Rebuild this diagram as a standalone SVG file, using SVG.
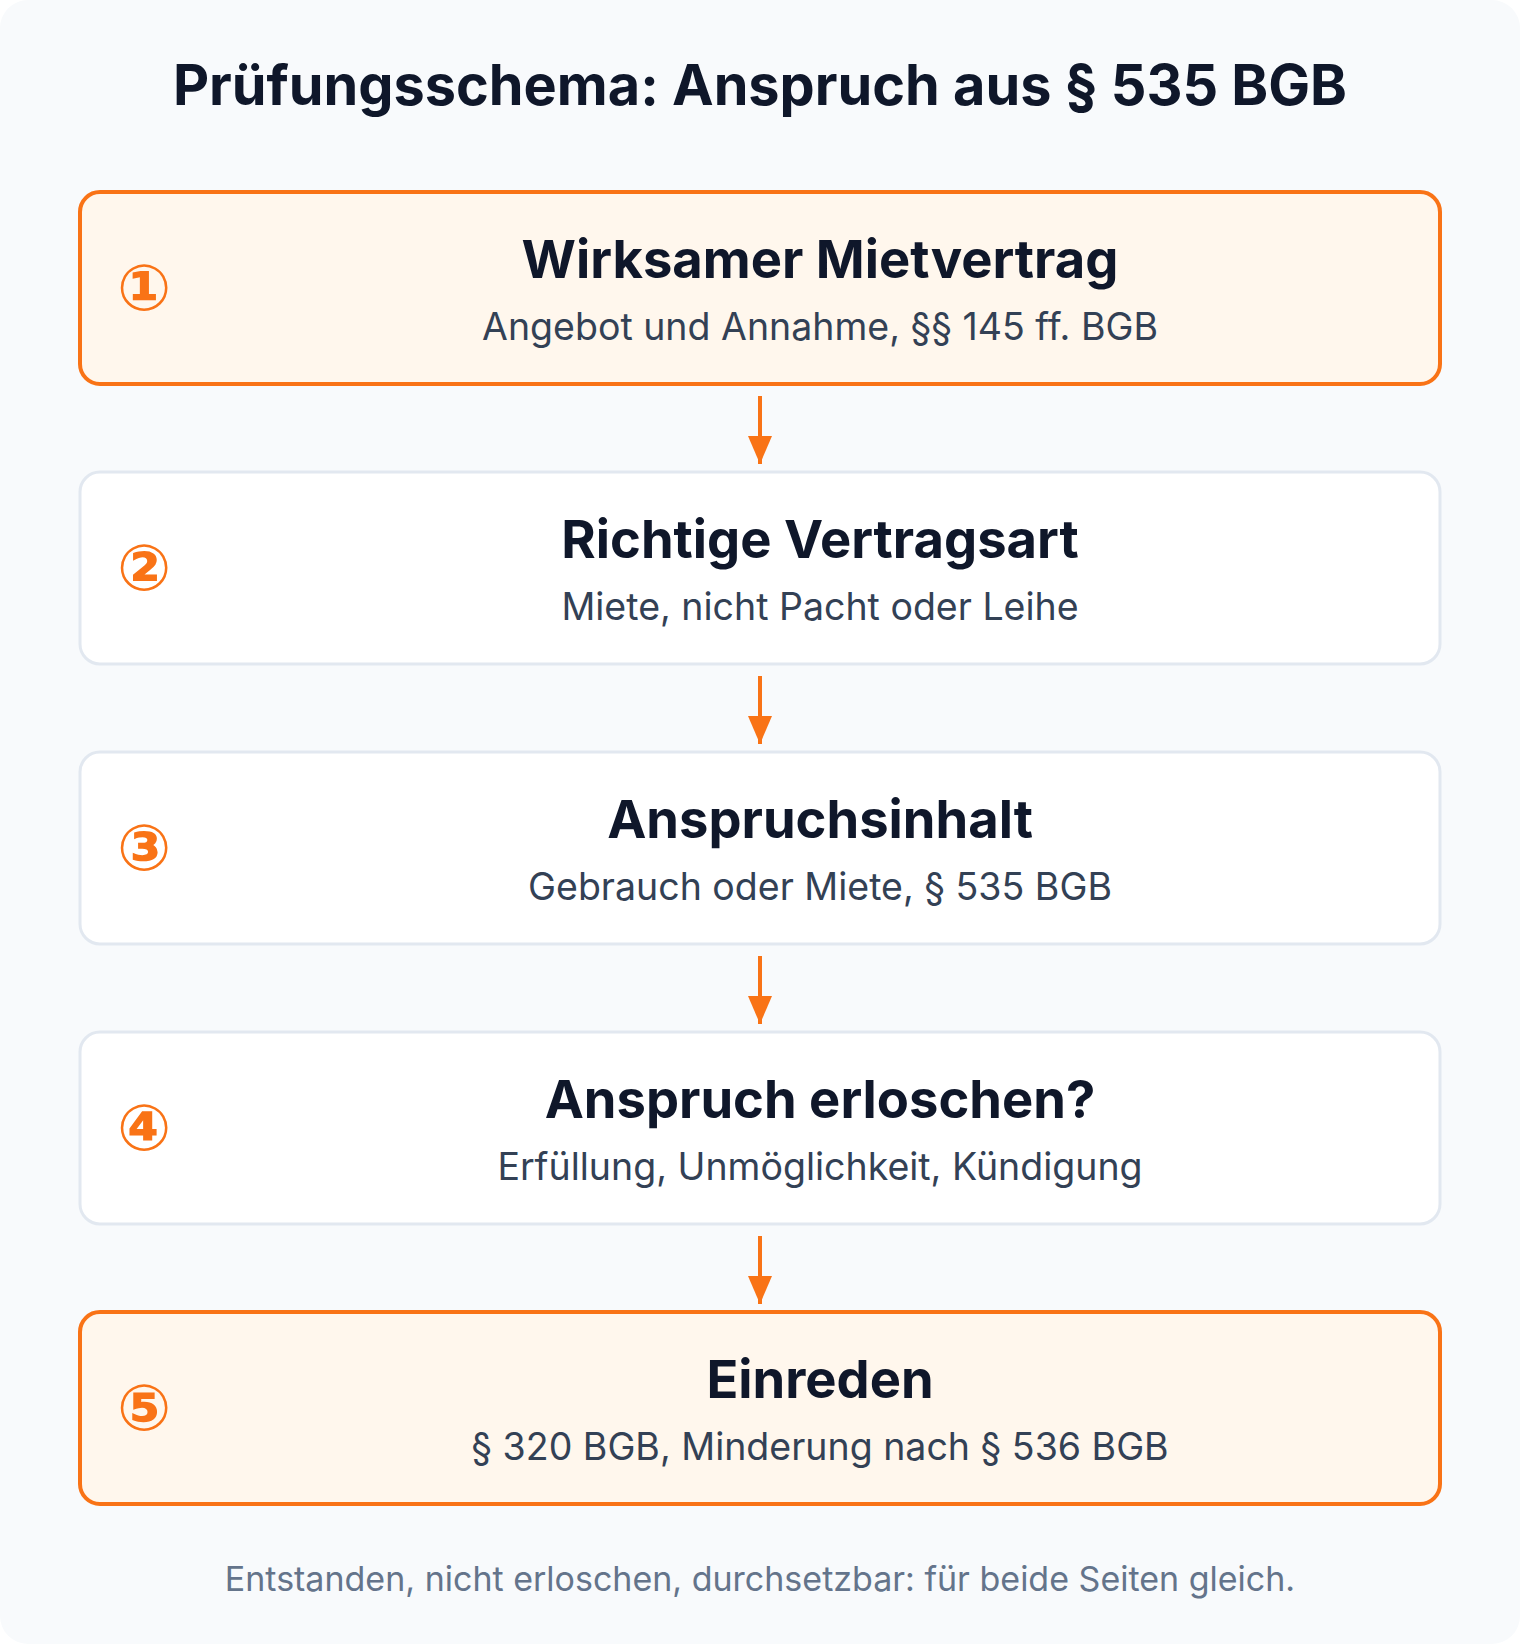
<svg xmlns="http://www.w3.org/2000/svg" width="1520" height="1644" viewBox="0 0 1520 1644">
<defs>
<style>
.title{font-family:Inter,"Liberation Sans",sans-serif;font-weight:700;font-size:55.8px;fill:#0f172a;text-anchor:middle}
.head{font-family:Inter,"Liberation Sans",sans-serif;font-weight:700;font-size:52.5px;fill:#0f172a;text-anchor:middle}
.sub{font-family:Inter,"Liberation Sans",sans-serif;font-weight:400;font-size:37.5px;fill:#334155;text-anchor:middle}
.num{font-family:"DejaVu Sans",sans-serif;font-weight:700;font-size:64px;fill:#f97316;text-anchor:middle}
.foot{font-family:Inter,"Liberation Sans",sans-serif;font-weight:400;font-size:34px;fill:#64748b;text-anchor:middle}
.hl{fill:#fff7ed;stroke:#f97316;stroke-width:4}
.pl{fill:#ffffff;stroke:#e2e8f0;stroke-width:3}
.conn{stroke:#f97316;stroke-width:4;fill:none}
</style>
<marker id="ah" viewBox="0 0 28 24" refX="28" refY="12" markerWidth="28" markerHeight="24" markerUnits="userSpaceOnUse" orient="auto">
<path d="M0,0 L28,12 L0,24 Z" fill="#f97316"/>
</marker>
</defs>
<rect width="1520" height="1644" fill="#ffffff"/>
<rect width="1520" height="1644" rx="28" fill="#f8fafc"/>
<text class="title" x="760" y="105">Prüfungsschema: Anspruch aus § 535 BGB</text>
<g id="connectors">
<line class="conn" x1="760" y1="396" x2="760" y2="464" marker-end="url(#ah)"/>
<line class="conn" x1="760" y1="676" x2="760" y2="744" marker-end="url(#ah)"/>
<line class="conn" x1="760" y1="956" x2="760" y2="1024" marker-end="url(#ah)"/>
<line class="conn" x1="760" y1="1236" x2="760" y2="1304" marker-end="url(#ah)"/>
</g>
<g id="node1">
<rect class="hl" x="80" y="192" width="1360" height="192" rx="20"/>
<text class="num" x="144" y="310">①</text>
<text class="head" x="820" y="278">Wirksamer Mietvertrag</text>
<text class="sub" x="820" y="340">Angebot und Annahme, §§ 145 ff. BGB</text>
</g>
<g id="node2">
<rect class="pl" x="80" y="472" width="1360" height="192" rx="20"/>
<text class="num" x="144" y="590">②</text>
<text class="head" x="820" y="558">Richtige Vertragsart</text>
<text class="sub" x="820" y="620">Miete, nicht Pacht oder Leihe</text>
</g>
<g id="node3">
<rect class="pl" x="80" y="752" width="1360" height="192" rx="20"/>
<text class="num" x="144" y="870">③</text>
<text class="head" x="820" y="838">Anspruchsinhalt</text>
<text class="sub" x="820" y="900">Gebrauch oder Miete, § 535 BGB</text>
</g>
<g id="node4">
<rect class="pl" x="80" y="1032" width="1360" height="192" rx="20"/>
<text class="num" x="144" y="1150">④</text>
<text class="head" x="820" y="1118">Anspruch erloschen?</text>
<text class="sub" x="820" y="1180">Erfüllung, Unmöglichkeit, Kündigung</text>
</g>
<g id="node5">
<rect class="hl" x="80" y="1312" width="1360" height="192" rx="20"/>
<text class="num" x="144" y="1430">⑤</text>
<text class="head" x="820" y="1398">Einreden</text>
<text class="sub" x="820" y="1460">§ 320 BGB, Minderung nach § 536 BGB</text>
</g>
<text class="foot" x="760" y="1591">Entstanden, nicht erloschen, durchsetzbar: für beide Seiten gleich.</text>
</svg>
